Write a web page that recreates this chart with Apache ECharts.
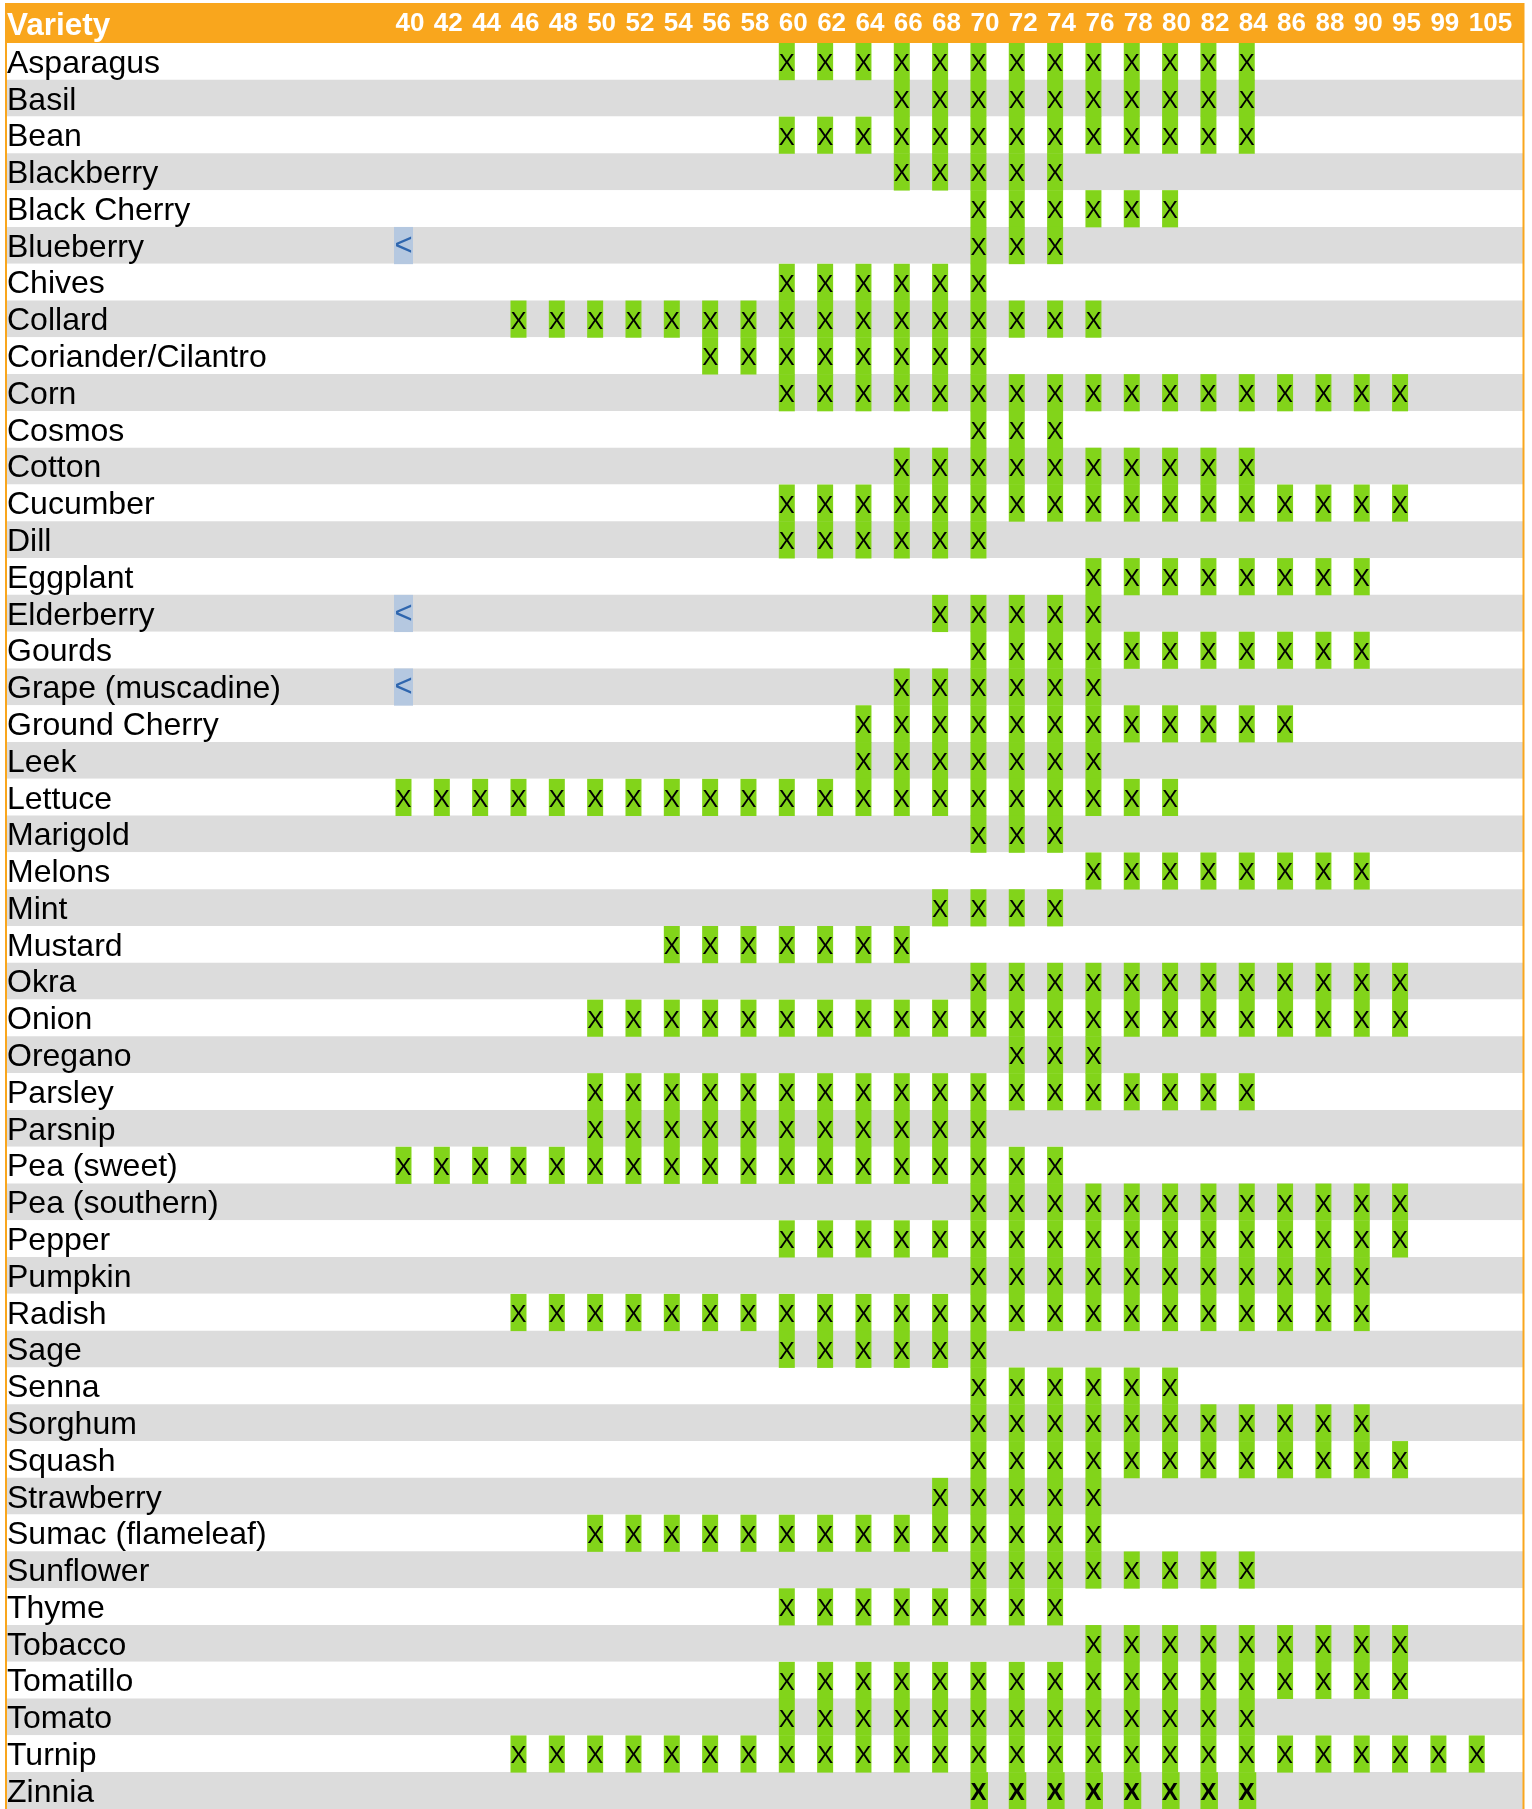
<!DOCTYPE html>
<html>
<head>
<meta charset="utf-8">
<script src="https://cdn.jsdelivr.net/npm/echarts@6/dist/echarts.min.js"></script>
<style>
html,body{margin:0;padding:0;background:#ffffff;}
#chart{width:1532px;height:1809px;}
</style>
</head>
<body>
<div id="chart"></div>
<script>
// ---------------- data ----------------
const headerTitle = 'Variety';

const columns = ['40','42','44','46','48','50','52','54','56','58','60','62','64','66','68',
                 '70','72','74','76','78','80','82','84','86','88','90','95','99','105'];

const varieties = ['Asparagus','Basil','Bean','Blackberry','Black Cherry','Blueberry','Chives',
  'Collard','Coriander/Cilantro','Corn','Cosmos','Cotton','Cucumber','Dill','Eggplant','Elderberry',
  'Gourds','Grape (muscadine)','Ground Cherry','Leek','Lettuce','Marigold','Melons','Mint','Mustard',
  'Okra','Onion','Oregano','Parsley','Parsnip','Pea (sweet)','Pea (southern)','Pepper','Pumpkin',
  'Radish','Sage','Senna','Sorghum','Squash','Strawberry','Sumac (flameleaf)','Sunflower','Thyme',
  'Tobacco','Tomatillo','Tomato','Turnip','Zinnia'];

// one string per variety, one character per column (spaces only group columns by five):
// 'x' = marked, '<' = below the range, '.' = empty
const marks = [
  '..... ..... xxxxx xxxxx xxx.. ....', // Asparagus
  '..... ..... ...xx xxxxx xxx.. ....', // Basil
  '..... ..... xxxxx xxxxx xxx.. ....', // Bean
  '..... ..... ...xx xxx.. ..... ....', // Blackberry
  '..... ..... ..... xxxxx x.... ....', // Black Cherry
  '<.... ..... ..... xxx.. ..... ....', // Blueberry
  '..... ..... xxxxx x.... ..... ....', // Chives
  '...xx xxxxx xxxxx xxxx. ..... ....', // Collard
  '..... ...xx xxxxx x.... ..... ....', // Coriander/Cilantro
  '..... ..... xxxxx xxxxx xxxxx xx..', // Corn
  '..... ..... ..... xxx.. ..... ....', // Cosmos
  '..... ..... ...xx xxxxx xxx.. ....', // Cotton
  '..... ..... xxxxx xxxxx xxxxx xx..', // Cucumber
  '..... ..... xxxxx x.... ..... ....', // Dill
  '..... ..... ..... ...xx xxxxx x...', // Eggplant
  '<.... ..... ....x xxxx. ..... ....', // Elderberry
  '..... ..... ..... xxxxx xxxxx x...', // Gourds
  '<.... ..... ...xx xxxx. ..... ....', // Grape (muscadine)
  '..... ..... ..xxx xxxxx xxxx. ....', // Ground Cherry
  '..... ..... ..xxx xxxx. ..... ....', // Leek
  'xxxxx xxxxx xxxxx xxxxx x.... ....', // Lettuce
  '..... ..... ..... xxx.. ..... ....', // Marigold
  '..... ..... ..... ...xx xxxxx x...', // Melons
  '..... ..... ....x xxx.. ..... ....', // Mint
  '..... ..xxx xxxx. ..... ..... ....', // Mustard
  '..... ..... ..... xxxxx xxxxx xx..', // Okra
  '..... xxxxx xxxxx xxxxx xxxxx xx..', // Onion
  '..... ..... ..... .xxx. ..... ....', // Oregano
  '..... xxxxx xxxxx xxxxx xxx.. ....', // Parsley
  '..... xxxxx xxxxx x.... ..... ....', // Parsnip
  'xxxxx xxxxx xxxxx xxx.. ..... ....', // Pea (sweet)
  '..... ..... ..... xxxxx xxxxx xx..', // Pea (southern)
  '..... ..... xxxxx xxxxx xxxxx xx..', // Pepper
  '..... ..... ..... xxxxx xxxxx x...', // Pumpkin
  '...xx xxxxx xxxxx xxxxx xxxxx x...', // Radish
  '..... ..... xxxxx x.... ..... ....', // Sage
  '..... ..... ..... xxxxx x.... ....', // Senna
  '..... ..... ..... xxxxx xxxxx x...', // Sorghum
  '..... ..... ..... xxxxx xxxxx xx..', // Squash
  '..... ..... ....x xxxx. ..... ....', // Strawberry
  '..... xxxxx xxxxx xxxx. ..... ....', // Sumac (flameleaf)
  '..... ..... ..... xxxxx xxx.. ....', // Sunflower
  '..... ..... xxxxx xxx.. ..... ....', // Thyme
  '..... ..... ..... ...xx xxxxx xx..', // Tobacco
  '..... ..... xxxxx xxxxx xxxxx xx..', // Tomatillo
  '..... ..... xxxxx xxxxx xxx.. ....', // Tomato
  '...xx xxxxx xxxxx xxxxx xxxxx xxxx', // Turnip
  '..... ..... ..... xxxxx xxx.. ....'  // Zinnia
];

// ---------------- styles ----------------
const FONT = '"Liberation Sans", Arial, Helvetica, sans-serif';
const ORANGE = '#F9A61D';
const GREEN = '#82D41A';
const GRAY = '#DCDCDC';
const BLUE_CELL = '#B5C8E0';
const BLUE_TEXT = '#2F66AE';
const boldRows = ['Zinnia'];

// build cell table from the data arrays
const KIND = { 'x': 0, '<': 1 };
const cells = [];
marks.forEach(function (row, r) {
  const chars = row.replace(/ /g, '');
  for (let c = 0; c < chars.length; c++) {
    const ch = chars[c];
    if (ch in KIND) cells.push([c, r, KIND[ch]]);
  }
});

function renderItem(params, api) {
  const c = api.value(0), r = api.value(1), kind = api.value(2);
  const p = api.coord([c, r]);
  const h = api.size([0, 1])[1];
  const bold = boldRows.indexOf(varieties[r]) >= 0;
  if (kind === 1) {
    return { type: 'group', children: [
      { type: 'rect', shape: { x: p[0] - 1.5, y: p[1] - h / 2, width: 19, height: h + 0.4 },
        style: { fill: BLUE_CELL } },
      { type: 'text', style: { text: '<', x: p[0] + 8, y: p[1] + 1, fill: BLUE_TEXT,
        font: '31px ' + FONT, align: 'center', verticalAlign: 'middle' } }
    ]};
  }
  return { type: 'group', children: [
    { type: 'rect', shape: { x: p[0], y: p[1] - h / 2, width: bold ? 17.5 : 16, height: h + 0.4 },
      style: { fill: GREEN } },
    { type: 'text', style: { text: 'X', x: p[0] + 8, y: p[1] + 3, fill: '#000000',
      font: (bold ? 'bold ' : '') + '24px ' + FONT, align: 'center', verticalAlign: 'middle' } }
  ]};
}

const chart = echarts.init(document.getElementById('chart'), null, { renderer: 'canvas' });

const BAND = 38.33;
const firstCellLeft = 395.5;
const grid1Left = firstCellLeft - BAND / 2;
const grid1Width = BAND * columns.length;

chart.setOption({
  animation: false,
  backgroundColor: '#ffffff',
  title: {
    text: headerTitle, left: 7, top: 10, padding: 0, z: 20,
    textStyle: { color: '#ffffff', fontSize: 31.5, fontWeight: 'bold', fontFamily: FONT }
  },
  graphic: [
    { type: 'rect', z: -5, silent: true, shape: { x: 5, y: 4, width: 1519, height: 39 }, style: { fill: ORANGE } },
    { type: 'rect', z: 50, silent: true, shape: { x: 6, y: 4, width: 1517.5, height: 1820 },
      style: { fill: 'none', stroke: ORANGE, lineWidth: 2 } }
  ],
  grid: [
    { left: 5, right: 9, top: 43, bottom: 0, containLabel: false },
    { left: grid1Left, width: grid1Width, top: 43, bottom: 0, containLabel: false }
  ],
  xAxis: [
    { type: 'value', gridIndex: 0, min: 0, max: 1, show: false },
    { type: 'category', gridIndex: 1, data: columns, position: 'top', z: 10,
      axisLine: { show: false }, axisTick: { show: false }, splitLine: { show: false },
      axisLabel: { interval: 0, color: '#ffffff', fontSize: 26, fontWeight: 'bold', fontFamily: FONT,
        align: 'left', verticalAlign: 'middle', margin: 19 } }
  ],
  yAxis: [
    { type: 'category', gridIndex: 0, data: varieties, inverse: true,
      axisLine: { show: false }, axisTick: { show: false }, splitLine: { show: false },
      splitArea: { show: true, areaStyle: { color: ['#ffffff', GRAY] } },
      axisLabel: { inside: true, margin: 2, interval: 0, color: '#000000', fontSize: 32,
        fontFamily: FONT, align: 'left', verticalAlign: 'middle',
        formatter: '{t|{value}}',
        rich: { t: { color: '#000000', fontSize: 32, fontFamily: FONT, padding: [5, 0, 0, 0] } } } },
    { type: 'category', gridIndex: 1, data: varieties, inverse: true, show: false }
  ],
  series: [
    { type: 'custom', xAxisIndex: 1, yAxisIndex: 1, data: cells, renderItem: renderItem,
      clip: false, z: 3, silent: true }
  ]
});
</script>
</body>
</html>
